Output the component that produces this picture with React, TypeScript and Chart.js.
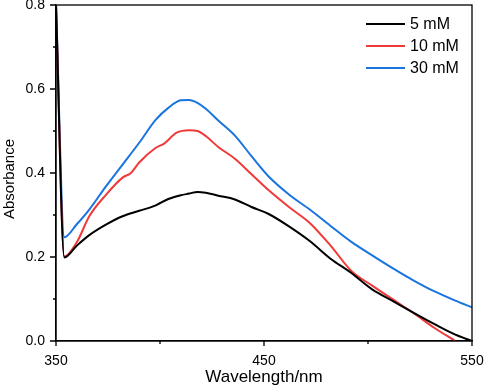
import React, { useEffect, useRef } from "react";
import { Chart, registerables } from "chart.js";

Chart.register(...registerables);

const seriesLabels = ["5 mM", "10 mM", "30 mM"];
const seriesColors = ["#000000", "#f03a3a", "#1a74e0"];

const blackX = [350, 354, 360, 366, 374, 382, 390, 398, 404, 410, 414, 418, 422, 428, 436, 444, 452, 462, 472, 482, 492, 502, 512, 522, 532, 542, 550];
const blackY = [0.8, 0.199, 0.227, 0.252, 0.277, 0.297, 0.31, 0.323, 0.338, 0.347, 0.351, 0.355, 0.353, 0.346, 0.337, 0.319, 0.303, 0.273, 0.238, 0.196, 0.162, 0.123, 0.095, 0.067, 0.04, 0.015, 0.0];

const redX = [350, 354, 360, 366, 374, 382, 386, 390, 398, 402, 408, 414, 418, 422, 428, 436, 444, 452, 462, 472, 482, 492, 502, 512, 522, 532, 542];
const redY = [0.8, 0.201, 0.235, 0.297, 0.348, 0.389, 0.4, 0.425, 0.46, 0.47, 0.496, 0.502, 0.5, 0.488, 0.462, 0.434, 0.397, 0.36, 0.319, 0.281, 0.227, 0.167, 0.132, 0.099, 0.066, 0.031, 0.0];

const blueX = [350, 354, 360, 366, 374, 382, 390, 398, 404, 410, 414, 418, 422, 428, 436, 444, 452, 462, 472, 482, 492, 502, 512, 522, 532, 542, 550];
const blueY = [0.8, 0.247, 0.278, 0.313, 0.368, 0.42, 0.472, 0.527, 0.555, 0.573, 0.574, 0.567, 0.553, 0.525, 0.489, 0.44, 0.393, 0.349, 0.313, 0.274, 0.236, 0.204, 0.173, 0.144, 0.118, 0.096, 0.08];

const xMajorTicks = [350, 450, 550];
const xMinorTicks = [400, 500];
const yMajorTicks = [0, 0.2, 0.4, 0.6, 0.8];
const yMinorTicks = [0.1, 0.3, 0.5, 0.7];
const yTitle = "Absorbance";
const xTitle = "Wavelength/nm";

const FONT = "'Liberation Sans', Arial, Helvetica, sans-serif";

const framePlugin = {
  id: "frameTicks",
  afterDraw(chart: any) {
    const { ctx, chartArea, scales } = chart;
    const xs = scales.x;
    const ys = scales.y;
    ctx.save();
    ctx.strokeStyle = "#000";
    ctx.lineWidth = 1.3;
    ctx.strokeRect(chartArea.left, chartArea.top, chartArea.right - chartArea.left, chartArea.bottom - chartArea.top);
    ctx.beginPath();
    xMajorTicks.forEach((v) => {
      const px = xs.getPixelForValue(v);
      ctx.moveTo(px, chartArea.bottom);
      ctx.lineTo(px, chartArea.bottom + 5);
    });
    xMinorTicks.forEach((v) => {
      const px = xs.getPixelForValue(v);
      ctx.moveTo(px, chartArea.bottom);
      ctx.lineTo(px, chartArea.bottom + 3);
    });
    yMajorTicks.forEach((v) => {
      const py = ys.getPixelForValue(v);
      ctx.moveTo(chartArea.left, py);
      ctx.lineTo(chartArea.left - 6, py);
    });
    yMinorTicks.forEach((v) => {
      const py = ys.getPixelForValue(v);
      ctx.moveTo(chartArea.left, py);
      ctx.lineTo(chartArea.left - 3, py);
    });
    ctx.stroke();

    // y title
    ctx.fillStyle = "#000";
    ctx.font = `15px ${FONT}`;
    ctx.textAlign = "center";
    ctx.textBaseline = "middle";
    ctx.save();
    ctx.translate(10, 179);
    ctx.rotate(-Math.PI / 2);
    ctx.fillText(yTitle, 0, 0);
    ctx.restore();

    // legend
    const rows = [24, 46, 68];
    ctx.font = `16px ${FONT}`;
    ctx.textBaseline = "middle";
    ctx.textAlign = "left";
    seriesLabels.forEach((lab, i) => {
      ctx.strokeStyle = seriesColors[i];
      ctx.lineWidth = 2;
      ctx.beginPath();
      ctx.moveTo(366, rows[i]);
      ctx.lineTo(405, rows[i]);
      ctx.stroke();
      ctx.fillStyle = "#000";
      ctx.fillText(lab, 410, rows[i] + 1);
    });
    ctx.restore();
  },
};

export default function App() {
  const ref = useRef<HTMLCanvasElement | null>(null);
  useEffect(() => {
    if (!ref.current) return;
    const mk = (xa: number[], ya: number[]) => xa.map((x, i) => ({ x, y: ya[i] }));
    const ds = (i: number, xa: number[], ya: number[]) => ({
      label: seriesLabels[i],
      data: mk(xa, ya),
      borderColor: seriesColors[i],
      borderWidth: 2,
      pointRadius: 0,
      tension: 0.3,
      cubicInterpolationMode: "monotone",
    });
    const chart = new Chart(ref.current, {
      type: "line",
      data: {
        datasets: [ds(0, blackX, blackY), ds(1, redX, redY), ds(2, blueX, blueY)],
      },
      options: {
        animation: false,
        responsive: true,
        maintainAspectRatio: false,
        layout: { padding: { top: 5, right: 12, left: 0, bottom: 0 } },
        plugins: { legend: { display: false }, tooltip: { enabled: false } },
        scales: {
          x: {
            type: "linear",
            min: 350,
            max: 550,
            afterFit: (s: any) => { s.height = 47; s.paddingLeft = 0; s.paddingRight = 0; },
            afterBuildTicks: (s: any) => { s.ticks = xMajorTicks.map((v) => ({ value: v })); },
            grid: { display: false, drawTicks: false },
            border: { display: true, color: "#000", width: 1.3 },
            ticks: { color: "#000", padding: 12, maxRotation: 0, font: { family: FONT, size: 14 } },
            title: { display: true, text: xTitle, color: "#000", font: { family: FONT, size: 17 }, padding: { top: 0, bottom: 0 } },
          },
          y: {
            type: "linear",
            min: 0,
            max: 0.8,
            afterFit: (s: any) => { s.width = 56; s.paddingTop = 0; s.paddingBottom = 0; },
            afterBuildTicks: (s: any) => { s.ticks = yMajorTicks.map((v) => ({ value: v })); },
            grid: { display: false, drawTicks: false },
            border: { display: true, color: "#000", width: 1.3 },
            ticks: { color: "#000", padding: 11, font: { family: FONT, size: 14 }, callback: (v: any) => Number(v).toFixed(1) },
            title: { display: false },
          },
        },
      },
      plugins: [framePlugin],
    } as any);
    return () => chart.destroy();
  }, []);
  return (
    <div style={{ position: "fixed", left: 0, top: 0, width: 484, height: 388, background: "#fff" }}>
      <canvas ref={ref} />
    </div>
  );
}
